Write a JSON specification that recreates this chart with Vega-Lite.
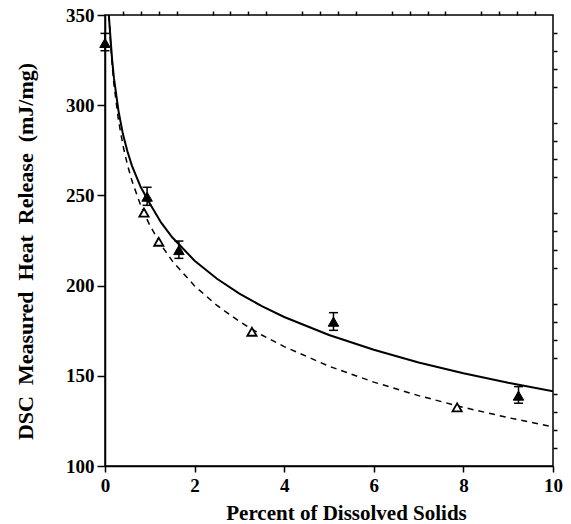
{
  "$schema": "https://vega.github.io/schema/vega-lite/v6.json",
  "width": 448,
  "height": 451,
  "autosize": {"type": "none"},
  "padding": {"left": 105, "top": 15, "right": 18, "bottom": 58},
  "background": "white",
  "config": {
    "view": {"stroke": "black", "strokeWidth": 1.5},
    "font": "Liberation Serif",
    "axis": {
      "grid": false,
      "domainColor": "black",
      "domainWidth": 1.5,
      "tickColor": "black",
      "tickWidth": 1.5,
      "labelColor": "black",
      "labelFont": "Liberation Serif",
      "labelFontWeight": "bold",
      "labelFontSize": 18,
      "titleColor": "black",
      "titleFont": "Liberation Serif",
      "titleFontWeight": "bold",
      "titleFontSize": 21
    }
  },
  "datasets": {
    "curves": [
      {"series": "solid", "x": 0.085, "y": 350},
      {"series": "solid", "x": 0.12, "y": 338},
      {"series": "solid", "x": 0.16, "y": 325},
      {"series": "solid", "x": 0.2, "y": 315},
      {"series": "solid", "x": 0.3, "y": 297},
      {"series": "solid", "x": 0.4, "y": 284},
      {"series": "solid", "x": 0.5, "y": 274.5},
      {"series": "solid", "x": 0.6, "y": 266.5},
      {"series": "solid", "x": 0.8, "y": 254.5},
      {"series": "solid", "x": 1.0, "y": 245.5},
      {"series": "solid", "x": 1.25, "y": 235},
      {"series": "solid", "x": 1.5, "y": 226.8},
      {"series": "solid", "x": 2.0, "y": 213.8},
      {"series": "solid", "x": 2.5, "y": 203.8},
      {"series": "solid", "x": 3.0, "y": 195.6},
      {"series": "solid", "x": 3.5, "y": 188.6},
      {"series": "solid", "x": 4.0, "y": 182.6},
      {"series": "solid", "x": 5.0, "y": 172.6},
      {"series": "solid", "x": 6.0, "y": 164.4},
      {"series": "solid", "x": 7.0, "y": 157.4},
      {"series": "solid", "x": 8.0, "y": 151.4},
      {"series": "solid", "x": 9.0, "y": 146.1},
      {"series": "solid", "x": 10.0, "y": 141.4},
      {"series": "dashed", "x": 0.09, "y": 350},
      {"series": "dashed", "x": 0.12, "y": 336.2},
      {"series": "dashed", "x": 0.16, "y": 322.3},
      {"series": "dashed", "x": 0.2, "y": 311.5},
      {"series": "dashed", "x": 0.3, "y": 291.8},
      {"series": "dashed", "x": 0.4, "y": 277.8},
      {"series": "dashed", "x": 0.5, "y": 267.0},
      {"series": "dashed", "x": 0.6, "y": 258.2},
      {"series": "dashed", "x": 0.8, "y": 244.2},
      {"series": "dashed", "x": 1.0, "y": 233.4},
      {"series": "dashed", "x": 1.25, "y": 222.6},
      {"series": "dashed", "x": 1.5, "y": 213.7},
      {"series": "dashed", "x": 2.0, "y": 199.8},
      {"series": "dashed", "x": 2.5, "y": 189.0},
      {"series": "dashed", "x": 3.0, "y": 180.1},
      {"series": "dashed", "x": 3.5, "y": 172.6},
      {"series": "dashed", "x": 4.0, "y": 166.2},
      {"series": "dashed", "x": 5.0, "y": 155.3},
      {"series": "dashed", "x": 6.0, "y": 146.5},
      {"series": "dashed", "x": 7.0, "y": 139.0},
      {"series": "dashed", "x": 8.0, "y": 132.5},
      {"series": "dashed", "x": 9.0, "y": 126.8},
      {"series": "dashed", "x": 10.0, "y": 121.7}
    ],
    "filled": [
      {"x": 0.0, "y": 334.5, "lo": 330.2, "hi": 339.8},
      {"x": 0.94, "y": 249.3, "lo": 244.5, "hi": 254.5},
      {"x": 1.65, "y": 219.7, "lo": 215.1, "hi": 224.7},
      {"x": 5.1, "y": 180.0, "lo": 175.2, "hi": 185.0},
      {"x": 9.23, "y": 139.0, "lo": 134.8, "hi": 144.0}
    ],
    "open": [
      {"x": 0.87, "y": 240.5},
      {"x": 1.2, "y": 224.3},
      {"x": 3.28, "y": 174.4},
      {"x": 7.86, "y": 132.5}
    ]
  },
  "layer": [
    {
      "data": {"name": "curves"},
      "transform": [{"filter": "datum.series === 'solid'"}],
      "mark": {"type": "line", "color": "black", "strokeWidth": 2, "clip": true},
      "encoding": {
        "x": {
          "field": "x", "type": "quantitative",
          "scale": {"domain": [0, 10], "nice": false, "zero": false},
          "axis": {
            "values": [0, 2, 4, 6, 8, 10], "format": "d", "tickSize": 6, "labelPadding": 4,
            "labelFont": "Liberation Serif", "labelFontWeight": "bold", "labelFontSize": 19,
            "labelFlush": false, "title": "Percent of Dissolved Solids",
            "titleX": 241, "titleY": 47, "titleBaseline": "middle", "titleAlign": "center"
          }
        },
        "y": {
          "field": "y", "type": "quantitative",
          "scale": {"domain": [100, 350], "nice": false, "zero": false},
          "axis": {
            "values": [100, 150, 200, 250, 300, 350], "format": "d", "tickSize": 8, "labelPadding": 3,
            "labelFont": "Liberation Serif", "labelFontWeight": "bold", "labelFontSize": 19,
            "labelFlush": false, "title": "DSC\u00a0\u00a0Measured\u00a0\u00a0Heat\u00a0\u00a0Release\u00a0\u00a0(mJ/mg)",
            "titleFontSize": 22,
            "titleX": -80, "titleY": 236, "titleAngle": -90, "titleBaseline": "middle", "titleAlign": "center"
          }
        }
      }
    },
    {
      "data": {"name": "curves"},
      "transform": [{"filter": "datum.series === 'dashed'"}],
      "mark": {"type": "line", "color": "black", "strokeWidth": 1.5, "strokeDash": [6, 5], "clip": true},
      "encoding": {
        "x": {"field": "x", "type": "quantitative", "axis": null},
        "y": {"field": "y", "type": "quantitative", "axis": null}
      }
    },
    {
      "data": {"name": "filled"},
      "mark": {"type": "rule", "color": "black", "strokeWidth": 1.5},
      "encoding": {
        "x": {
          "field": "x", "type": "quantitative",
          "axis": {
            "values": [0.4, 0.8, 1.2, 1.6, 2.4, 2.8, 3.2, 3.6, 4.4, 4.8, 5.2, 5.6, 6.4, 6.8, 7.2, 7.6, 8.4, 8.8, 9.2, 9.6],
            "labels": false, "domain": false, "tickSize": 4, "title": null
          }
        },
        "y": {
          "field": "lo", "type": "quantitative",
          "axis": {
            "values": [110, 120, 130, 140, 160, 170, 180, 190, 210, 220, 230, 240, 260, 270, 280, 290, 310, 320, 330, 340],
            "labels": false, "domain": false, "tickSize": 4, "title": null
          }
        },
        "y2": {"field": "hi"}
      }
    },
    {
      "data": {"name": "filled"},
      "mark": {"type": "point", "shape": "M-1,0L1,0", "size": 81, "stroke": "black", "strokeWidth": 1.5, "filled": false, "opacity": 1},
      "encoding": {
        "x": {"field": "x", "type": "quantitative", "axis": null},
        "y": {"field": "lo", "type": "quantitative", "axis": null}
      }
    },
    {
      "data": {"name": "filled"},
      "mark": {"type": "point", "shape": "M-1,0L1,0", "size": 81, "stroke": "black", "strokeWidth": 1.5, "filled": false, "opacity": 1},
      "encoding": {
        "x": {"field": "x", "type": "quantitative", "axis": null},
        "y": {"field": "hi", "type": "quantitative", "axis": null}
      }
    },
    {
      "data": {"name": "filled"},
      "mark": {"type": "point", "shape": "triangle-up", "size": 110, "filled": true, "fill": "black", "stroke": "black", "strokeWidth": 1, "opacity": 1},
      "encoding": {
        "x": {"field": "x", "type": "quantitative", "axis": null},
        "y": {"field": "y", "type": "quantitative", "axis": null}
      }
    },
    {
      "data": {"name": "open"},
      "mark": {"type": "point", "shape": "triangle-up", "size": 85, "filled": true, "fill": "white", "stroke": "black", "strokeWidth": 1.8, "opacity": 1},
      "encoding": {
        "x": {"field": "x", "type": "quantitative", "axis": null},
        "y": {"field": "y", "type": "quantitative", "axis": null}
      }
    }
  ],
  "resolve": {"axis": {"x": "independent", "y": "independent"}}
}
